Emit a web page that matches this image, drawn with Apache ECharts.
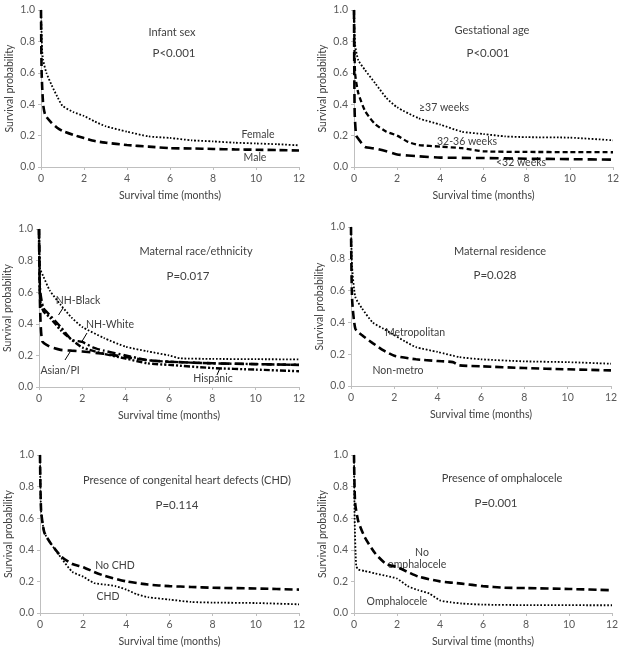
<!DOCTYPE html>
<html><head><meta charset="utf-8">
<script src="https://cdn.jsdelivr.net/npm/echarts@6/dist/echarts.min.js"></script>
<style>html,body{margin:0;padding:0;background:#fff}#c{width:624px;height:648px}</style>
</head><body><div id="c"></div>
<script>
// ---- data (months, survival probability) ----
var xTicks = [0, 2, 4, 6, 8, 10, 12];
var yTicks = [0.0, 0.2, 0.4, 0.6, 0.8, 1.0];

var femaleT = [0, 0.05, 0.1, 0.25, 0.5, 0.75, 1, 1.5, 2, 2.5, 3, 4, 5, 6, 7, 8, 9, 10, 11, 12];
var femaleS = [1.0, 0.75, 0.68, 0.6, 0.52, 0.45, 0.39, 0.35, 0.325, 0.29, 0.26, 0.225, 0.195, 0.185, 0.17, 0.163, 0.155, 0.15, 0.145, 0.138];
var maleT = [0, 0.03, 0.1, 0.2, 0.5, 0.75, 1, 1.5, 2, 2.5, 3, 4, 5, 6, 7, 8, 9, 10, 11, 12];
var maleS = [1.0, 0.6, 0.4, 0.33, 0.28, 0.25, 0.23, 0.205, 0.184, 0.165, 0.155, 0.14, 0.13, 0.12, 0.118, 0.115, 0.112, 0.11, 0.108, 0.105];

var ga37T = [0, 0.05, 0.2, 0.5, 1, 1.5, 2, 3, 4, 5, 6, 7, 8, 10, 12];
var ga37S = [1.0, 0.78, 0.68, 0.62, 0.53, 0.44, 0.38, 0.31, 0.27, 0.225, 0.21, 0.195, 0.19, 0.187, 0.17];
var ga3236T = [0, 0.05, 0.2, 0.5, 0.75, 1, 1.5, 2, 2.5, 3, 4, 5, 6, 8, 10, 12];
var ga3236S = [1.0, 0.6, 0.47, 0.36, 0.31, 0.27, 0.225, 0.2, 0.16, 0.14, 0.13, 0.12, 0.1, 0.096, 0.095, 0.094];
var ga32T = [0, 0.03, 0.1, 0.2, 0.5, 1, 1.5, 2, 3, 4, 6, 8, 10, 12];
var ga32S = [1.0, 0.35, 0.2, 0.18, 0.128, 0.117, 0.1, 0.08, 0.068, 0.06, 0.057, 0.053, 0.05, 0.047];

var blackT = [0, 0.05, 0.2, 0.5, 1, 1.5, 2, 3, 4, 5, 6, 6.5, 8, 10, 12];
var blackS = [1.0, 0.75, 0.7, 0.61, 0.52, 0.44, 0.38, 0.31, 0.255, 0.226, 0.2, 0.182, 0.178, 0.176, 0.175];
var whiteT = [0, 0.05, 0.2, 0.5, 1, 1.5, 2, 2.5, 3, 4, 5, 6, 8, 10, 12];
var whiteS = [1.0, 0.62, 0.5, 0.455, 0.38, 0.3, 0.285, 0.25, 0.23, 0.2, 0.17, 0.16, 0.15, 0.145, 0.14];
var asianT = [0, 0.05, 0.15, 0.5, 1, 1.5, 2, 3, 4, 5, 6, 8, 10, 12];
var asianS = [1.0, 0.5, 0.29, 0.255, 0.235, 0.23, 0.225, 0.21, 0.19, 0.17, 0.16, 0.15, 0.145, 0.14];
var hispT = [0, 0.05, 0.2, 0.5, 1, 1.5, 2, 3, 4, 5, 6, 8, 10, 12];
var hispS = [1.0, 0.55, 0.48, 0.44, 0.36, 0.3, 0.25, 0.21, 0.18, 0.15, 0.14, 0.12, 0.11, 0.1];

var metroT = [0, 0.05, 0.2, 0.5, 1, 1.5, 2, 2.5, 3, 4, 5, 6, 8, 10, 12];
var metroS = [1.0, 0.75, 0.56, 0.49, 0.4, 0.36, 0.32, 0.28, 0.245, 0.214, 0.182, 0.168, 0.155, 0.15, 0.14];
var nonmetroT = [0, 0.05, 0.2, 0.5, 1, 1.5, 2, 3, 4, 4.7, 5, 6, 8, 10, 12];
var nonmetroS = [1.0, 0.55, 0.36, 0.32, 0.27, 0.224, 0.19, 0.168, 0.157, 0.15, 0.13, 0.124, 0.113, 0.105, 0.098];

var noChdT = [0, 0.05, 0.2, 0.5, 1, 1.5, 2, 2.5, 3, 4, 5, 6, 7, 8, 10, 12];
var noChdS = [1.0, 0.65, 0.51, 0.44, 0.355, 0.31, 0.29, 0.26, 0.235, 0.2, 0.18, 0.17, 0.165, 0.16, 0.155, 0.148];
var chdT = [0, 0.05, 0.2, 0.5, 1, 1.5, 2, 2.5, 3, 3.5, 4, 4.5, 5, 6, 7, 8, 10, 12];
var chdS = [1.0, 0.65, 0.51, 0.44, 0.345, 0.26, 0.23, 0.19, 0.18, 0.17, 0.148, 0.118, 0.1, 0.085, 0.07, 0.066, 0.063, 0.055];

var noOmphT = [0, 0.05, 0.2, 0.5, 1, 1.5, 2, 2.5, 3, 4, 5, 6, 7, 8, 10, 12];
var noOmphS = [1.0, 0.7, 0.58, 0.48, 0.375, 0.31, 0.29, 0.26, 0.23, 0.2, 0.186, 0.17, 0.16, 0.158, 0.152, 0.144];
var omphT = [0, 0.03, 0.1, 0.2, 0.5, 1, 1.5, 2, 2.5, 3, 3.5, 4, 4.5, 5, 6, 8, 12];
var omphS = [1.0, 0.6, 0.3, 0.275, 0.266, 0.25, 0.235, 0.218, 0.17, 0.144, 0.123, 0.08, 0.068, 0.06, 0.053, 0.05, 0.049];

var panelTitles = ["Infant sex", "Gestational age", "Maternal race/ethnicity", "Maternal residence",
  "Presence of congenital heart defects (CHD)", "Presence of omphalocele"];
var pValues = ["P<0.001", "P<0.001", "P=0.017", "P=0.028", "P=0.114", "P=0.001"];

// ---- layout ----
var FONT = "Lato, 'Open Sans', sans-serif";
var TXT = '#404040';
var grids = [
  {left: 41, top: 10, width: 258, height: 157},
  {left: 354, top: 10, width: 259, height: 157},
  {left: 39, top: 229, width: 260, height: 158},
  {left: 351, top: 227, width: 260, height: 159},
  {left: 40, top: 455, width: 259, height: 158},
  {left: 354, top: 455, width: 258, height: 158}
];

function zip(t, s) { return t.map(function (v, i) { return [v, s[i]]; }); }

var DOT = {type: [1.7, 1.8], width: 1.8};
var DASH = {type: [8, 4], width: 2.6};
var DASHM = {type: [5, 3], width: 2.3};
var DASHL = {type: [9, 5], width: 2.6};
var DASHDOT = {type: [8, 3, 2, 3], width: 2.4};
var DASHDOTDOT = {type: [6, 2, 2, 2, 2, 2], width: 2.4};

var seriesDefs = [
  [0, femaleT, femaleS, DOT], [0, maleT, maleS, DASH],
  [1, ga37T, ga37S, DOT], [1, ga3236T, ga3236S, DASHM], [1, ga32T, ga32S, DASHL],
  [2, blackT, blackS, DOT], [2, whiteT, whiteS, DASHDOT], [2, asianT, asianS, DASHL], [2, hispT, hispS, DASHDOTDOT],
  [3, metroT, metroS, DOT], [3, nonmetroT, nonmetroS, DASH],
  [4, noChdT, noChdS, DASH], [4, chdT, chdS, DOT],
  [5, noOmphT, noOmphS, DASH], [5, omphT, omphS, DOT]
];

var xAxes = [], yAxes = [], series = [], graphics = [];
grids.forEach(function (g, i) {
  xAxes.push({
    type: 'value', gridIndex: i, min: 0, max: 12, interval: 2,
    name: 'Survival time (months)', nameLocation: 'middle', nameGap: 23,
    nameTextStyle: {fontFamily: FONT, fontSize: 10.5, color: TXT},
    axisLine: {show: true, lineStyle: {color: '#bfbfbf', width: 1}},
    axisTick: {show: true, length: 3, lineStyle: {color: '#bfbfbf'}},
    axisLabel: {fontFamily: FONT, fontSize: 10.5, color: '#595959', margin: 6},
    splitLine: {show: false}
  });
  yAxes.push({
    type: 'value', gridIndex: i, min: 0, max: 1, interval: 0.2,
    name: 'Survival probability', nameLocation: 'middle', nameGap: 26,
    nameTextStyle: {fontFamily: FONT, fontSize: 10.5, color: TXT},
    axisLine: {show: true, lineStyle: {color: '#bfbfbf', width: 1}},
    axisTick: {show: true, length: 3, lineStyle: {color: '#bfbfbf'}},
    axisLabel: {fontFamily: FONT, fontSize: 10.5, color: '#595959', margin: 6,
      formatter: function (v) { return v.toFixed(1); }},
    splitLine: {show: false}
  });
});

seriesDefs.forEach(function (d) {
  series.push({
    type: 'line', xAxisIndex: d[0], yAxisIndex: d[0], data: zip(d[1], d[2]),
    showSymbol: false, symbol: 'none', smooth: 0.2,
    lineStyle: {color: '#000', width: d[3].width, type: d[3].type}, silent: true
  });
});

function txt2(x, y, s, size) {
  graphics.push({type: 'text', x: x, y: y, silent: true,
    style: {text: s, fill: TXT, font: (size || 10.5) + 'px ' + FONT, textAlign: 'center', textVerticalAlign: 'middle'}});
}
function seg(x1, y1, x2, y2) {
  graphics.push({type: 'line', silent: true, shape: {x1: x1, y1: y1, x2: x2, y2: y2}, style: {stroke: '#000', lineWidth: 1}});
}
var titlePos = [[172, 32], [492, 30], [196, 251], [500, 251], [187, 480], [502, 478]];
var pPos = [[174, 53], [488, 53], [188, 276], [495, 275], [177, 505], [496, 503]];
titlePos.forEach(function (p, i) { txt2(p[0], p[1], panelTitles[i], 11); });
pPos.forEach(function (p, i) { txt2(p[0], p[1], pValues[i], 11.5); });

// curve labels
txt2(258, 135, 'Female'); txt2(255, 158, 'Male');
txt2(444, 108, '\u226537 weeks'); txt2(467, 142, '32-36 weeks'); txt2(521, 163, '<32 weeks');
txt2(78, 301, 'NH-Black'); txt2(110, 325, 'NH-White'); txt2(60, 371, 'Asian/PI'); txt2(213, 379, 'Hispanic');
seg(63, 308, 58.5, 315); seg(87, 333, 81, 343); seg(70, 352, 65, 360); seg(220, 368, 217, 375);
txt2(415, 333, 'Metropolitan'); txt2(398, 371, 'Non-metro');
txt2(115, 566, 'No CHD'); txt2(108, 597, 'CHD');
txt2(422, 553, 'No'); txt2(417, 565, 'omphalocele'); txt2(397, 602, 'Omphalocele');

var chart = echarts.init(document.getElementById('c'), null, {renderer: 'canvas'});
chart.setOption({
  animation: false, backgroundColor: '#fff',
  grid: grids, xAxis: xAxes, yAxis: yAxes, series: series, graphic: graphics
});
</script></body></html>
